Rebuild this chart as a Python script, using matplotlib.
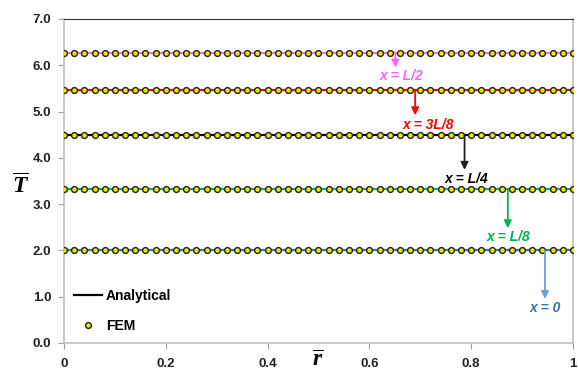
import numpy as np
import matplotlib
matplotlib.use("Agg")
import matplotlib.pyplot as plt

plt.rcParams['font.family'] = ['Liberation Sans', 'DejaVu Sans']
plt.rcParams['mathtext.fontset'] = 'custom'
plt.rcParams['mathtext.it'] = 'Liberation Serif:italic:bold'
plt.rcParams['mathtext.rm'] = 'Liberation Serif:bold'

# dimensionless radius and temperature at each axial station
r_nodes = np.linspace(0, 1, 51)
stations = ["x = 0", "x = L/8", "x = L/4", "x = 3L/8", "x = L/2"]
T_levels = [2.0, 3.33, 4.49, 5.47, 6.27]
colors = ["#2E75B6", "#00B050", "#000000", "#FF0000", "#FF66FF"]
arrow_colors = ["#6F9FD8", "#00B050", "#222222", "#FF0000", "#FF66FF"]

# annotation: arrow x on the line, arrow tip y, text centre (x, y)
arrow_x = [0.945, 0.872, 0.787, 0.690, 0.651]
arrow_tip = [0.95, 2.48, 3.74, 4.92, 5.95]
text_xy = [(0.945, 0.75), (0.874, 2.28), (0.790, 3.55), (0.715, 4.72), (0.664, 5.77)]

fig = plt.figure(figsize=(5.78, 3.72), dpi=100)
ax = fig.add_axes([0.1107, 0.078, 0.8806, 0.871])

for T, c in zip(T_levels, colors):
    ax.plot(r_nodes, np.full_like(r_nodes, T), color=c, lw=1.6, zorder=2)
    ax.plot(r_nodes, np.full_like(r_nodes, T), ls='none', marker='o', ms=4.2,
            mfc='#E8E800', mec='#222222', mew=1.0, zorder=3)

for name, T, c, ac, ax_x, tip, (tx, ty) in zip(stations, T_levels, colors, arrow_colors,
                                                 arrow_x, arrow_tip, text_xy):
    ax.annotate("", xy=(ax_x, tip), xytext=(ax_x, T),
                arrowprops=dict(arrowstyle='-|>', color=ac, lw=1.3,
                                mutation_scale=11, shrinkA=0, shrinkB=0))
    ax.text(tx, ty, name, color=c, fontsize=10, fontweight='bold', style='italic',
            ha='center', va='center')

# legend entries
ax.plot([], [], color='black', lw=1.6, label='Analytical')
ax.plot([], [], ls='none', marker='o', ms=4.2, mfc='#E8E800', mec='#222222',
        mew=1.0, label='FEM')
leg = ax.legend(loc='lower left', bbox_to_anchor=(0.0, 0.0), frameon=False,
                fontsize=10, handlelength=2.0, handletextpad=0.25, labelspacing=1.15,
                borderaxespad=0.35)
for t in leg.get_texts():
    t.set_fontweight('bold')

ax.set_xlim(0, 1)
ax.set_ylim(0, 7)
ax.set_xticks([0, 0.2, 0.4, 0.6, 0.8, 1.0])
ax.set_xticklabels(['0', '0.2', '0.4', '0.6', '0.8', '1'])
ax.set_yticks(np.arange(0, 7.1, 1.0))
ax.set_yticklabels([f"{v:.1f}" for v in np.arange(0, 7.1, 1.0)])
for lbl in ax.get_xticklabels() + ax.get_yticklabels():
    lbl.set_fontweight('bold')
    lbl.set_fontsize(9.5)
    lbl.set_color('#222222')
ax.tick_params(axis='both', direction='out', length=4, width=0.8, color='#A0A0A0')
ax.tick_params(axis='x', pad=7)
ax.tick_params(axis='y', pad=5)

for side in ['left', 'bottom', 'right']:
    ax.spines[side].set_color('#BFBFBF')
    ax.spines[side].set_linewidth(1.2)
ax.spines['top'].set_color('#333333')
ax.spines['top'].set_linewidth(0.8)

fig.text(0.036, 0.50, r'$\overline{T}$', fontsize=17, ha='center', va='center')
fig.text(0.55, 0.032, r'$\overline{r}$', fontsize=17, ha='center', va='center')

fig.savefig("out.png", dpi=100)
